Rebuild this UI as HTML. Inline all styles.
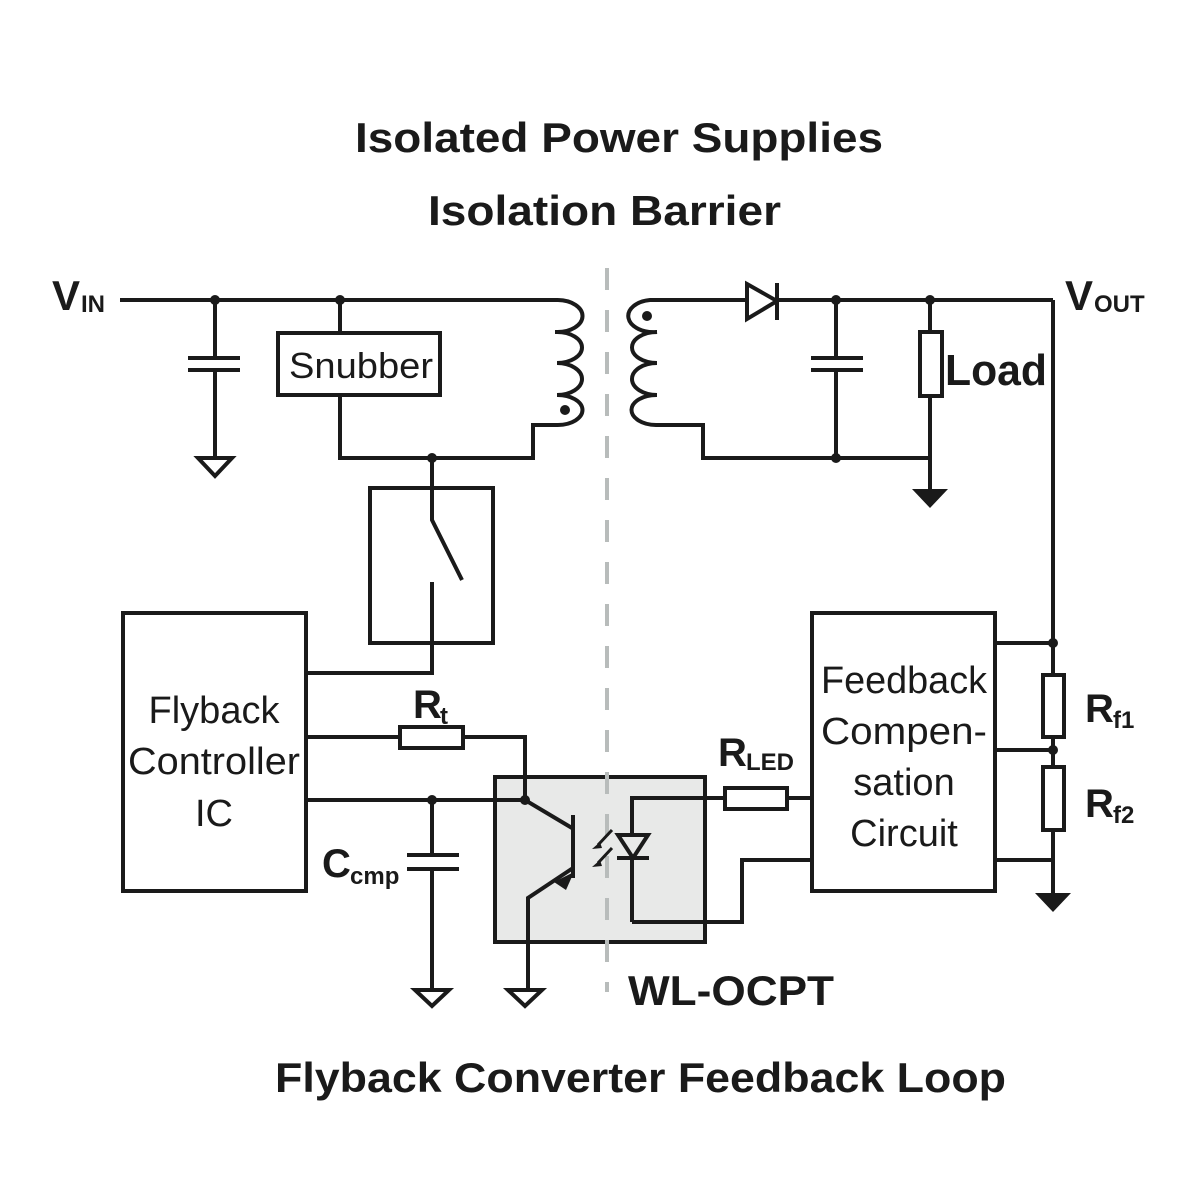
<!DOCTYPE html>
<html><head><meta charset="utf-8"><style>html,body{margin:0;padding:0;background:#fff}svg{display:block}</style></head><body>
<svg width="1200" height="1200" viewBox="0 0 1200 1200" xmlns="http://www.w3.org/2000/svg">
<g font-family="Liberation Sans, sans-serif" fill="#1a1a1a">
<text x="355" y="152" font-size="42" font-weight="bold" textLength="528" lengthAdjust="spacingAndGlyphs">Isolated Power Supplies</text>
<text x="428" y="225" font-size="42" font-weight="bold" textLength="353" lengthAdjust="spacingAndGlyphs">Isolation Barrier</text>
<text x="628" y="1005" font-size="42" font-weight="bold" textLength="206" lengthAdjust="spacingAndGlyphs">WL-OCPT</text>
<text x="275" y="1092" font-size="42" font-weight="bold" textLength="731" lengthAdjust="spacingAndGlyphs">Flyback Converter Feedback Loop</text>
<text x="52" y="310" font-size="42" font-weight="bold">V</text><text x="81" y="312" font-size="24" font-weight="bold">IN</text>
<text x="1065" y="310" font-size="42" font-weight="bold">V</text><text x="1094" y="312" font-size="24" font-weight="bold">OUT</text>
<text x="945" y="385" font-size="44" font-weight="bold" textLength="102" lengthAdjust="spacingAndGlyphs">Load</text>
<text x="289" y="378" font-size="36" textLength="144" lengthAdjust="spacingAndGlyphs">Snubber</text>
<g font-size="38" text-anchor="middle">
<text x="214" y="723">Flyback</text><text x="214" y="774" textLength="172" lengthAdjust="spacingAndGlyphs">Controller</text><text x="214" y="826">IC</text>
<text x="904" y="693" textLength="166" lengthAdjust="spacingAndGlyphs">Feedback</text><text x="904" y="744" textLength="166" lengthAdjust="spacingAndGlyphs">Compen-</text><text x="904" y="795">sation</text><text x="904" y="846">Circuit</text>
</g>
<text x="413" y="718" font-size="40" font-weight="bold">R</text><text x="440" y="724" font-size="24" font-weight="bold">t</text>
<text x="718" y="766" font-size="40" font-weight="bold">R</text><text x="746" y="770" font-size="24" font-weight="bold">LED</text>
<text x="322" y="877" font-size="40" font-weight="bold">C</text><text x="350" y="884" font-size="24" font-weight="bold">cmp</text>
<text x="1085" y="722" font-size="40" font-weight="bold">R</text><text x="1113" y="728" font-size="24" font-weight="bold">f1</text>
<text x="1085" y="817" font-size="40" font-weight="bold">R</text><text x="1113" y="823" font-size="24" font-weight="bold">f2</text>
</g>
<rect x="495" y="777" width="210" height="165" fill="#e8e9e8" stroke="#1a1a1a" stroke-width="4"/>
<line x1="607" y1="268" x2="607" y2="992" stroke="#b8bcbb" stroke-width="4" stroke-dasharray="22,20"/>
<g stroke="#1a1a1a" stroke-width="4" fill="none" stroke-linejoin="miter">
<path d="M120 300 H558"/>
<path d="M215 300 V358 M188 358 H240 M188 370 H240 M215 370 V458"/>
<path d="M198 458 H232 L215 476 Z"/>
<path d="M340 300 V333"/>
<rect x="278" y="333" width="162" height="62"/>
<path d="M340 395 V458 H533 V425 H558"/>
<path d="M558 300 A25 16 0 0 1 557 332 H555 M557 332 A25 15.5 0 0 1 557 363 M557 363 A25 16 0 0 1 557 395 M557 395 A25 15 0 0 1 558 425"/>
<path d="M655 300 H650 A25 16 0 0 0 657 332 M657 332 A25 15.5 0 0 0 657 363 M657 363 A25 16 0 0 0 657 395 M657 395 A25 15 0 0 0 656 425 H703 V458 H930"/>
<path d="M655 300 H1053"/>
<path d="M747 284 L777 301 L747 319 Z" fill="#fff"/><path d="M777 283 V320"/>
<path d="M836 300 V358 M811 358 H863 M811 370 H863 M836 370 V458"/>
<path d="M930 300 V332 M930 396 V490"/>
<rect x="920" y="332" width="22" height="64"/>
<path d="M432 458 V520 L462 580 M432 582 V673 H307"/>
<rect x="370" y="488" width="123" height="155"/>
<rect x="123" y="613" width="183" height="278"/>
<rect x="812" y="613" width="183" height="278"/>
<path d="M307 737 H400 M463 737 H525 V800 M307 800 H525 L572 828"/>
<rect x="400" y="727" width="63" height="21"/>
<path d="M432 800 V855 M407 855 H459 M407 869 H459 M432 869 V990"/>
<path d="M415 990 H449 L432 1006 Z"/>
<path d="M573 815 V878 M573 868 L528 898 V990"/>
<path d="M508 990 H542 L525 1006 Z"/>
<path d="M632 922 V798 H725 M787 798 H812"/>
<rect x="725" y="788" width="62" height="21"/>
<path d="M618 835 H648 L633 858 Z" fill="#e8e9e8"/><path d="M617 858 H649"/>
<path d="M632 922 H742 V860 H812"/>
<path d="M612 830 L598 845 M612 848 L598 863" stroke-width="3"/>
<path d="M1053 300 V675 M1053 737 V767 M1053 830 V893 M995 643 H1053 M995 750 H1053 M995 860 H1053"/>
<rect x="1043" y="675" width="21" height="62"/>
<rect x="1043" y="767" width="21" height="63"/>
</g>
<g fill="#1a1a1a">
<path d="M912 489 H948 L930 508 Z"/>
<path d="M1035 893 H1071 L1053 912 Z"/>
<path d="M554 882 L574 872 L566 890 Z"/>
<path d="M600 842 L592 849 L602 848 Z M600 860 L592 867 L602 866 Z"/>
<circle cx="215" cy="300" r="5"/><circle cx="340" cy="300" r="5"/><circle cx="432" cy="458" r="5"/>
<circle cx="836" cy="300" r="5"/><circle cx="930" cy="300" r="5"/><circle cx="836" cy="458" r="5"/>
<circle cx="432" cy="800" r="5"/><circle cx="525" cy="800" r="5"/>
<circle cx="1053" cy="643" r="5"/><circle cx="1053" cy="750" r="5"/>
<circle cx="565" cy="410" r="5"/><circle cx="647" cy="316" r="5"/>
</g>
</svg>
</body></html>
